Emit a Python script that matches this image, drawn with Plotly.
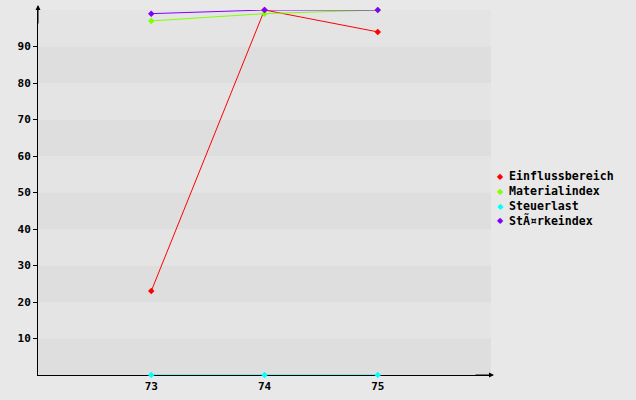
import plotly.graph_objects as go

categories = [73, 74, 75]
einfluss = [23, 100, 94]
material = [97, 99, 100]
steuer = [0, 0, 0]
staerke = [99, 100, 100]
y_ticks = [10, 20, 30, 40, 50, 60, 70, 80, 90]

series = [
    ("Einflussbereich", einfluss, "#ff0000"),
    ("Materialindex", material, "#80ff00"),
    ("Steuerlast", steuer, "#00ffff"),
    ("StÃ¤rkeindex", staerke, "#8000ff"),
]

fig = go.Figure()
for name, vals, col in series:
    fig.add_trace(go.Scatter(
        x=categories, y=vals, mode="lines+markers", name=name,
        line=dict(color=col, width=1), marker=dict(color=col, size=5, symbol="diamond"),
        showlegend=False, cliponaxis=False))

shapes = []
for i in range(10):
    lo, hi = i * 10, i * 10 + 10
    shapes.append(dict(type="rect", xref="paper", yref="y", x0=0, x1=1, y0=lo, y1=hi,
                       fillcolor="#dedede" if i % 2 == 0 else "#e4e4e4",
                       line=dict(width=0), layer="below"))

font = dict(family="DejaVu Sans Mono", size=11, color="#000000", weight="bold")
lfont = dict(family="DejaVu Sans Mono", size=11.6, color="#000000", weight="bold")

# plot area in pixels: x 38..491, y 10..375
PX0, PX1, PY0, PY1 = 38, 491, 10, 375
def px(x):
    return (x - PX0) / (PX1 - PX0)
def py(y):
    return (PY1 - y) / (PY1 - PY0)

annotations = [
    dict(xref="paper", yref="paper", x=0, y=py(5), ax=0, ay=20,
         showarrow=True, arrowhead=2, arrowsize=1, arrowwidth=1, arrowcolor="#000000", text=""),
    dict(xref="paper", yref="paper", x=px(494), y=0, ax=-20, ay=0,
         showarrow=True, arrowhead=2, arrowsize=1, arrowwidth=1, arrowcolor="#000000", text=""),
]
for i, (name, vals, col) in enumerate(series):
    yc = 176 + 15 * i
    annotations.append(dict(xref="paper", yref="paper", x=px(500), y=py(yc),
                            xanchor="center", yanchor="middle", showarrow=False,
                            text="◆", font=dict(family="DejaVu Sans", size=8, color=col)))
    annotations.append(dict(xref="paper", yref="paper", x=px(507), y=py(yc),
                            xanchor="left", yanchor="middle", showarrow=False,
                            text=name, font=lfont))

fig.update_layout(
    width=636, height=400,
    margin=dict(l=38, r=145, t=10, b=25),
    paper_bgcolor="#e8e8e8", plot_bgcolor="#e8e8e8",
    font=font,
    shapes=shapes,
    showlegend=False,
    xaxis=dict(range=[72, 76], tickvals=categories, ticktext=[str(c) for c in categories],
               showgrid=False, zeroline=False, showline=True, linecolor="#000000", linewidth=1,
               ticks="", tickfont=font, automargin=False, layer="below traces",
               ticklabelstandoff=1),
    yaxis=dict(range=[0, 100], tickvals=y_ticks, showgrid=False, zeroline=False,
               showline=True, linecolor="#000000", linewidth=1, ticks="outside",
               ticklen=4, tickcolor="#000000", tickfont=font, automargin=False),
    annotations=annotations,
)
fig.write_html("out.html", config={"displayModeBar": False},
               post_script="document.body.style.margin='0';document.body.style.background='#e8e8e8';")
